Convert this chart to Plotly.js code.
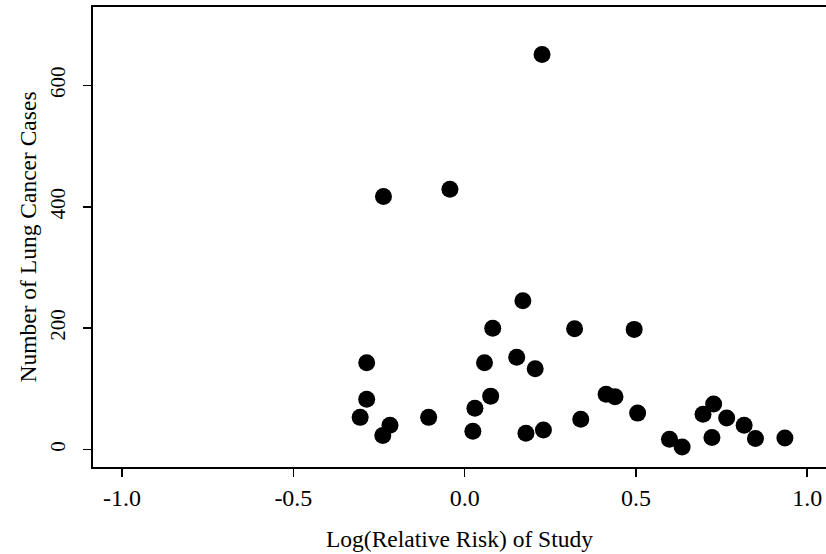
<!DOCTYPE html>
<html>
<head>
<meta charset="utf-8">
<script src="https://cdn.plot.ly/plotly-3.0.1.min.js"></script>
<style>
  html, body { margin: 0; padding: 0; background: #ffffff; }
  #chart { width: 826px; height: 554px; }
</style>
</head>
<body>
<div id="chart"></div>
<script>
// Log relative risk of each study and its number of lung cancer cases
const logRelativeRisk = [
  -0.305, -0.286, -0.286, -0.239, -0.218, -0.237, -0.105, -0.043,
   0.024,  0.030,  0.058,  0.076,  0.082,  0.152,  0.170,  0.179,
   0.206,  0.230,  0.226,  0.321,  0.339,  0.413,  0.439,  0.495,
   0.505,  0.598,  0.635,  0.696,  0.727,  0.722,  0.765,  0.816,
   0.849,  0.935
];
const lungCancerCases = [
   53,  83, 143,  23,  40, 417,  53, 429,
   30,  68, 143,  88, 200, 152, 245,  27,
  133,  32, 651, 199,  50,  91,  87, 198,
   60,  17,   4,  58,  75,  20,  52,  40,
   18,  19
];

const xTicks = [-1.0, -0.5, 0.0, 0.5, 1.0];
const xTickText = ['-1.0', '-0.5', '0.0', '0.5', '1.0'];
const yTicks = [0, 200, 400, 600];

const serif = 'Liberation Serif, Times New Roman, serif';

const trace = {
  type: 'scatter',
  mode: 'markers',
  x: logRelativeRisk,
  y: lungCancerCases,
  marker: { color: '#000000', size: 17, line: { width: 0 } },
  hoverinfo: 'x+y'
};

const layout = {
  width: 826,
  height: 554,
  margin: { l: 93, r: 0, t: 7, b: 87 },
  paper_bgcolor: '#ffffff',
  plot_bgcolor: '#ffffff',
  showlegend: false,
  font: { family: serif, color: '#000000', size: 20 },
  xaxis: {
    range: [-1.085, 1.055],
    tickvals: xTicks,
    ticktext: xTickText,
    ticks: 'outside',
    ticklen: 8,
    tickwidth: 1.5,
    tickcolor: '#000000',
    ticklabelstandoff: 0,
    showgrid: false,
    zeroline: false,
    showline: true,
    mirror: true,
    linecolor: '#000000',
    linewidth: 2,
    tickfont: { family: serif, size: 24, color: '#000000' },
    title: {
      text: 'Log(Relative Risk) of Study',
      font: { family: serif, size: 23.5, color: '#000000' },
      standoff: 21
    }
  },
  yaxis: {
    range: [-28.8, 729.3],
    tickvals: yTicks,
    ticks: 'outside',
    ticklen: 8,
    tickwidth: 1.5,
    tickcolor: '#000000',
    tickangle: -90,
    ticklabelstandoff: 10,
    showgrid: false,
    zeroline: false,
    showline: true,
    mirror: false,
    linecolor: '#000000',
    linewidth: 2,
    tickfont: { family: serif, size: 21, color: '#000000' },
    title: {
      text: 'Number of Lung Cancer Cases',
      font: { family: serif, size: 23.5, color: '#000000' },
      standoff: 2
    }
  }
};

Plotly.newPlot('chart', [trace], layout, { staticPlot: true, displayModeBar: false });
</script>
</body>
</html>
